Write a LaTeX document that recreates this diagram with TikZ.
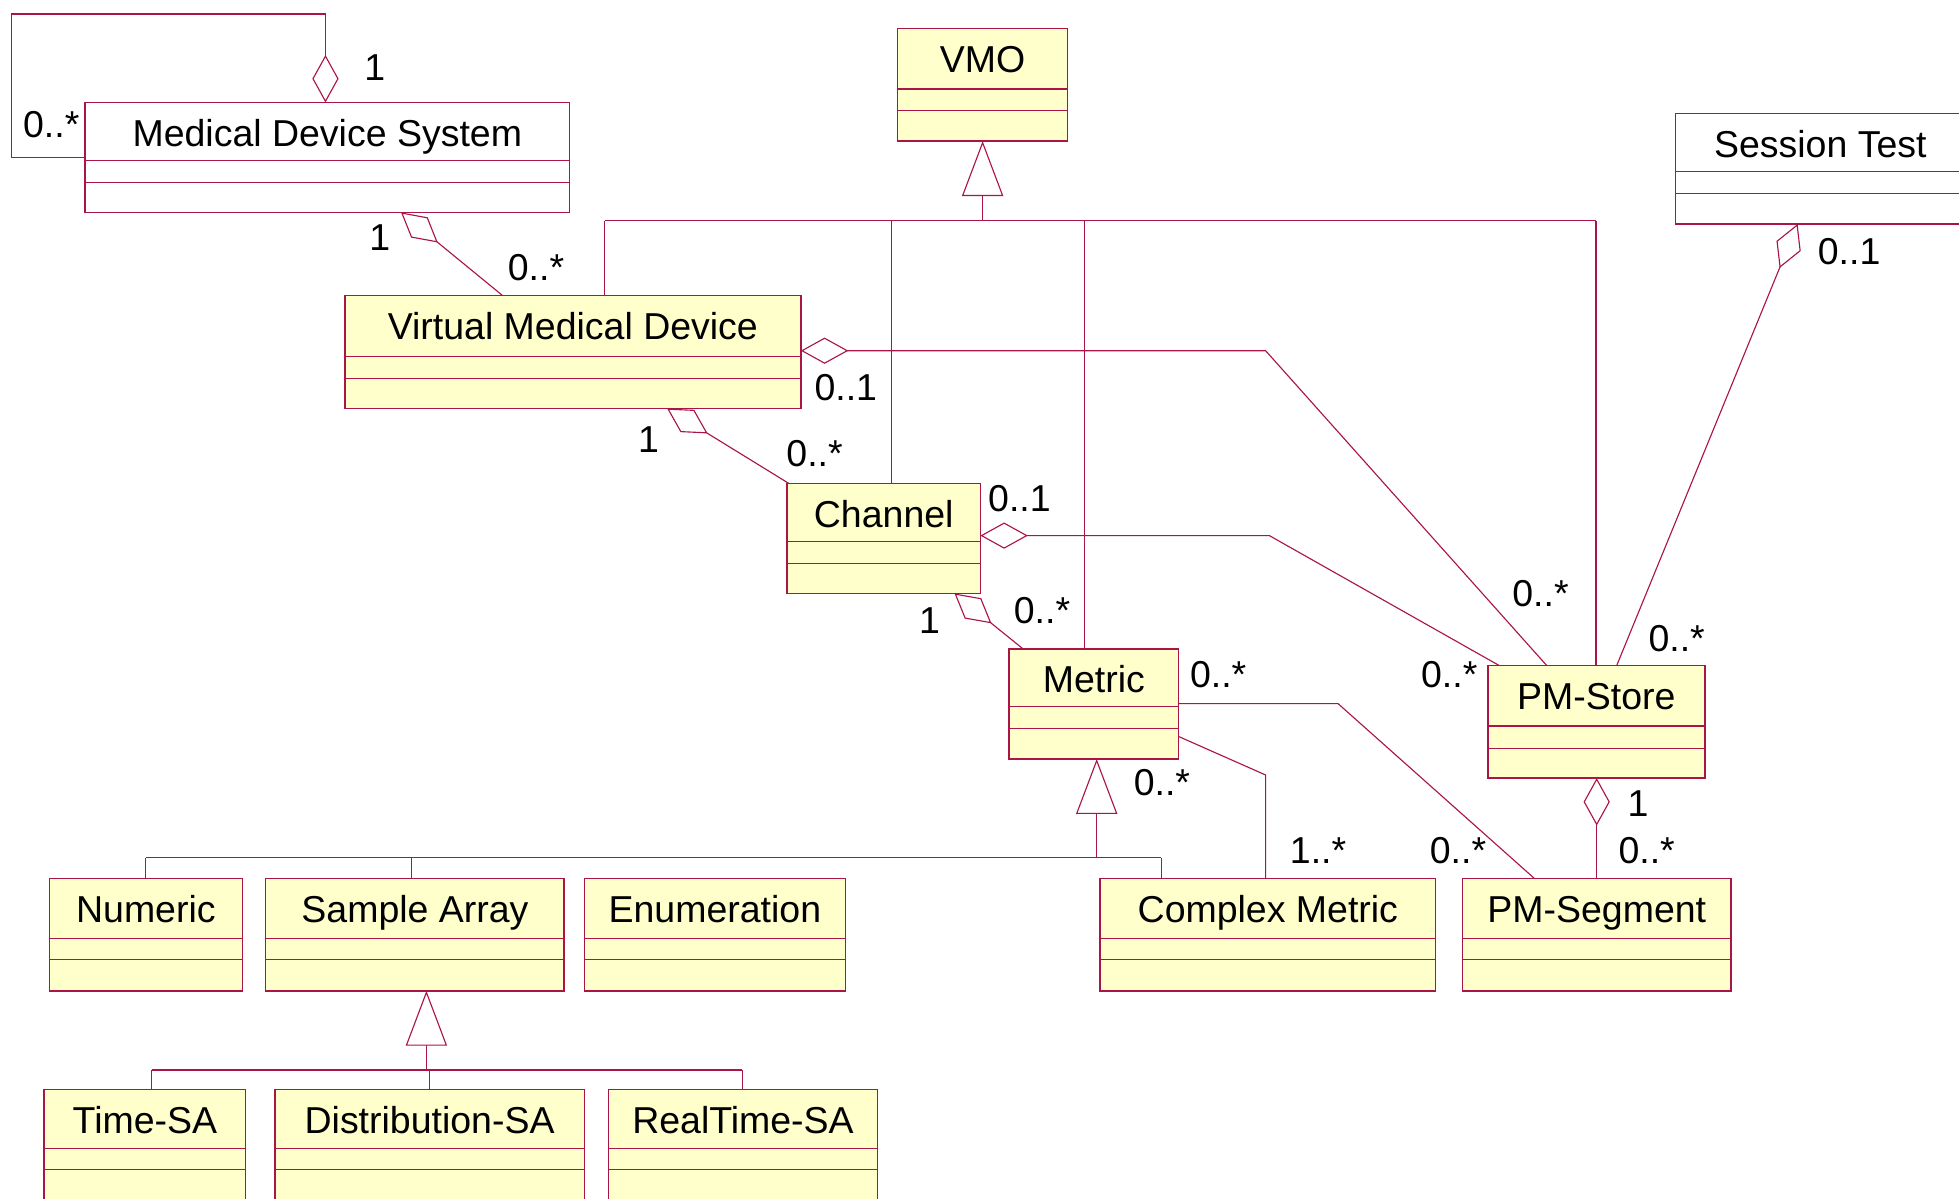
\documentclass[tikz,border=0pt]{standalone}
\usepackage{fontspec}
\setmainfont{Liberation Sans}
\usetikzlibrary{arrows.meta,calc}
\definecolor{umlred}{RGB}{170,20,70}
\definecolor{umlyel}{RGB}{255,255,204}
\tikzset{
  clsbox/.style={draw=umlred, line width=1.2pt, inner sep=0pt, outer sep=0pt, anchor=north west, rectangle},
  clstitle/.style={anchor=base, inner sep=0pt, font=\fontsize{30}{36}\selectfont},
  clssep/.style={draw=umlred, line width=1pt},
  conn/.style={draw=umlred, line width=0.9pt},
  aggr/.style={conn, -{Diamond[length=38pt,width=21pt,fill=white]}},
  genr/.style={conn, -{Triangle[length=44pt,width=33pt,fill=white]}},
  mult/.style={inner sep=0pt, font=\fontsize{30}{36}\selectfont},
}
\newcommand{\umlclass}[9]{%
  \pgfmathsetmacro{\bw}{#4-#2}%
  \pgfmathsetmacro{\bh}{#5-#3}%
  \node[clsbox, fill=#6, minimum width=\bw pt, minimum height=\bh pt] (#1) at (#2,#3) {};
  \node[clstitle] (#1-t) at ([yshift=-35pt]#1.north) {#7};
  \draw[clssep] ([yshift=-#8pt]#1.north west) -- ([yshift=-#8pt]#1.north east);
  \draw[clssep] ([yshift=-#9pt]#1.north west) -- ([yshift=-#9pt]#1.north east);
}
\begin{document}
\begin{tikzpicture}[x=1pt,y=-1pt]
\useasboundingbox (0,0) rectangle (1568,959);
\fill[white] (0,0) rectangle (1568,959);
\clip (0,0) rectangle (1568,959);

% classes
\umlclass{mds}{68}{82}{456}{170}{white}{Medical Device System}{46.5}{64}
\umlclass{vmo}{718.5}{22.7}{854.5}{112.9}{umlyel}{VMO}{48.5}{66}
\umlclass{sess}{1341}{91}{1573}{179.3}{white}{Session Test}{46.4}{63.7}
\umlclass{vmd}{276}{236.6}{641}{327}{umlyel}{Virtual Medical Device}{48.6}{66.2}
\umlclass{chan}{630}{387}{784.7}{475}{umlyel}{Channel}{46.6}{64}
\umlclass{metric}{807.7}{519.5}{943.4}{607.5}{umlyel}{Metric}{46}{63.7}
\umlclass{pms}{1191}{532.7}{1364.5}{622.8}{umlyel}{PM-Store}{48.3}{66.3}
\umlclass{numeric}{39.5}{703}{194}{793}{umlyel}{Numeric}{48}{65}
\umlclass{sarr}{212.7}{703}{451.6}{793}{umlyel}{Sample Array}{48}{65}
\umlclass{enum}{467.7}{703}{676.7}{793}{umlyel}{Enumeration}{48}{65}
\umlclass{cmet}{880.6}{703}{1149}{793}{umlyel}{Complex Metric}{48}{65}
\umlclass{pmseg}{1170.7}{703}{1385.4}{793}{umlyel}{PM-Segment}{48}{65}
\umlclass{tsa}{35.4}{872}{196.6}{962}{umlyel}{Time-SA}{47}{64}
\umlclass{dsa}{220}{872}{467.7}{962}{umlyel}{Distribution-SA}{47}{64}
\umlclass{rsa}{487}{872}{702.4}{962}{umlyel}{RealTime-SA}{47}{64}

% generalization to VMO
\coordinate (vbus) at (786.5,176.6);
\draw[conn] (484,176.6) -- (1277.4,176.6);
\draw[genr] (vbus) -- (vmo.south);
\draw[conn] (484,176.6) -- (484,0 |- vmd.north);
\draw[conn] (713.6,176.6) -- (713.6,0 |- chan.north);
\draw[conn] (868,176.6) -- (868,0 |- metric.north);
\draw[conn] (1277.4,176.6) -- (1277.4,0 |- pms.north);

% generalization to Metric
\coordinate (mbus) at (877.8,686.6);
\draw[conn] (116.7,686.6) -- (929.4,686.6);
\draw[genr] (mbus) -- (877.8,0 |- metric.south);
\draw[conn] (116.7,686.6) -- (116.7,0 |- numeric.north);
\draw[conn] (329.4,686.6) -- (329.4,0 |- sarr.north);
\draw[conn] (929.4,686.6) -- (929.4,0 |- cmet.north);

% generalization to Sample Array
\coordinate (sbus) at (341.3,856.4);
\draw[conn] (121.3,856.4) -- (594,856.4);
\draw[genr] (sbus) -- (341.3,0 |- sarr.south);
\draw[conn] (121.3,856.4) -- (121.3,0 |- tsa.north);
\draw[conn] (343.6,856.4) -- (343.6,0 |- dsa.north);
\draw[conn] (594,856.4) -- (594,0 |- rsa.north);

% aggregations
\draw[aggr] ([yshift=-43.9pt]mds.north west) -- (9,125.9) -- (9,11.2) -- (260.5,11.2) -- (260.5,0 |- mds.north);
\draw[aggr] ([xshift=126.3pt]vmd.north west) -- ([xshift=253pt]mds.south west);
\draw[aggr] ([xshift=1.5pt]chan.north west) -- ([xshift=258pt]vmd.south west);
\draw[aggr] ([xshift=47pt]pms.north west) -- (1013,280.7) -- ([yshift=-44.1pt]vmd.north east);
\draw[aggr] ([xshift=9pt]pms.north west) -- (1016,428.7) -- ([yshift=-41.7pt]chan.north east);
\draw[aggr] ([xshift=11.3pt]metric.north west) -- ([xshift=134pt]chan.south west);
\draw[aggr] ([xshift=103pt]pms.north west) -- ([xshift=97.8pt]sess.south west);
\draw[aggr] (1278,0 |- pmseg.north) -- (1278,0 |- pms.south);

% associations
\draw[conn] ([yshift=-43.7pt]metric.north east) -- (1071,563.2) -- ([xshift=57.3pt]pmseg.north west);
\draw[conn] ([yshift=-70pt]metric.north east) -- (1013,620.3) -- (1013,0 |- cmet.north);

% multiplicities
\node[mult] (m1) at (300,54) {1};
\node[mult] (m2) at (41,100) {0..*};
\node[mult] (m3) at (304,190) {1};
\node[mult] (m4) at (429,214) {0..*};
\node[mult] (m5) at (677,310) {0..1};
\node[mult] (m6) at (519,352) {1};
\node[mult] (m7) at (652,363) {0..*};
\node[mult] (m8) at (816,399) {0..1};
\node[mult] (m9) at (744,497) {1};
\node[mult] (m10) at (834,489) {0..*};
\node[mult] (m11) at (975,540) {0..*};
\node[mult] (m12) at (930,626) {0..*};
\node[mult] (m13) at (1055,681) {1..*};
\node[mult] (m14) at (1167,681) {0..*};
\node[mult] (m15) at (1233,475) {0..*};
\node[mult] (m16) at (1342,511) {0..*};
\node[mult] (m17) at (1160,540) {0..*};
\node[mult] (m18) at (1480,201) {0..1};
\node[mult] (m19) at (1311,643) {1};
\node[mult] (m20) at (1318,681) {0..*};
\end{tikzpicture}
\end{document}
